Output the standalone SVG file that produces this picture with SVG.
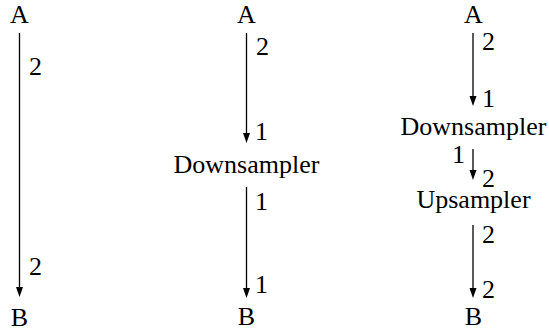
<svg xmlns="http://www.w3.org/2000/svg" width="549" height="336" viewBox="0 0 549 336">
<style>
text{font-family:'Liberation Serif','Times New Roman','DejaVu Serif',serif;font-size:26px;fill:#000}
.c{text-anchor:middle}
.e{text-anchor:end}
.ln{stroke:#000;stroke-width:1.3}
</style>
<rect width="549" height="336" fill="#fff"/>
<g font-family="Liberation Serif, serif" font-size="26">
<g id="col1A"><text class="c" x="19.5" y="23">A</text></g>
<g id="col1B"><text class="c" x="19.5" y="326">B</text></g>
<g id="col2A"><text class="c" x="246.5" y="23">A</text></g>
<g id="col2Down"><text class="c" x="246.5" y="173">Downsampler</text></g>
<g id="col2B"><text class="c" x="246.5" y="325">B</text></g>
<g id="col3A"><text class="c" x="473.5" y="23">A</text></g>
<g id="col3Down"><text class="c" x="473.5" y="135">Downsampler</text></g>
<g id="col3Up"><text class="c" x="473.5" y="208">Upsampler</text></g>
<g id="col3B"><text class="c" x="473.5" y="325">B</text></g>
<g id="connectors">
<line class="ln" x1="19.5" y1="33" x2="19.5" y2="290"/>
<path d="M16,287 L23,287 L19.5,297 Z"/>
<text x="29" y="75">2</text>
<text x="29" y="275">2</text>
<line class="ln" x1="246.5" y1="33" x2="246.5" y2="136"/>
<path d="M243,133 L250,133 L246.5,143 Z"/>
<text x="256" y="55">2</text>
<text x="255" y="140">1</text>
<line class="ln" x1="246.5" y1="187" x2="246.5" y2="291"/>
<path d="M243,288 L250,288 L246.5,298 Z"/>
<text x="255" y="210">1</text>
<text x="255" y="293">1</text>
<line class="ln" x1="473" y1="33" x2="473" y2="99"/>
<path d="M469.5,96 L476.5,96 L473,106 Z"/>
<text x="482" y="50">2</text>
<text x="482" y="107">1</text>
<line class="ln" x1="473" y1="149" x2="473" y2="173"/>
<path d="M469.5,170 L476.5,170 L473,180 Z"/>
<text class="e" x="465" y="163">1</text>
<text x="482" y="187">2</text>
<line class="ln" x1="473" y1="225" x2="473" y2="291"/>
<path d="M469.5,288 L476.5,288 L473,298 Z"/>
<text x="482" y="243">2</text>
<text x="482" y="298">2</text>
</g>
</g>
</svg>
